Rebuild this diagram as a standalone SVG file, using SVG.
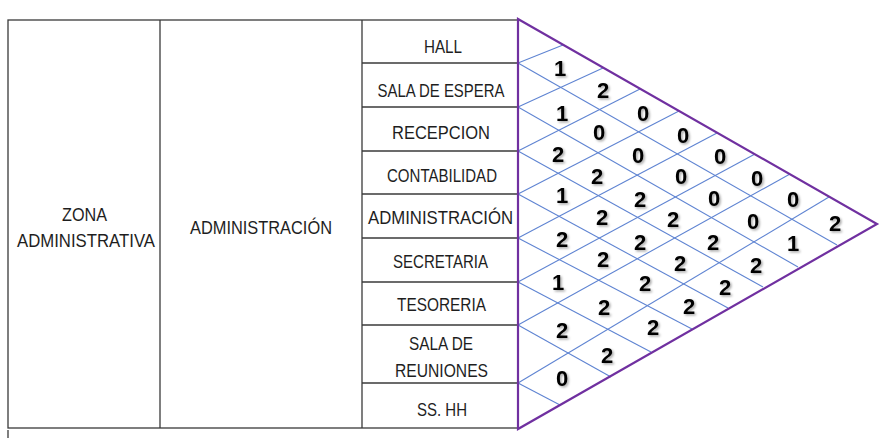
<svg xmlns="http://www.w3.org/2000/svg" width="886" height="438" viewBox="0 0 886 438">
<style>
.tb{fill:none;stroke:#3a3a3a;stroke-width:1.3}
.lbl{font-family:"Liberation Sans",Arial,sans-serif;font-size:19px;fill:#1e1e1e;text-anchor:middle}
.grid line{stroke:#5f84d2;stroke-width:1.1}
.tri{fill:none;stroke:#7030a0;stroke-width:2.2;stroke-linejoin:miter}
.num{font-family:"Liberation Sans",Arial,sans-serif;font-size:22px;font-weight:bold;fill:#000;text-anchor:middle}
</style>
<defs>
<filter id="sh" x="-50%" y="-50%" width="200%" height="200%">
<feDropShadow dx="1.5" dy="1.5" stdDeviation="0.9" flood-color="#000" flood-opacity="0.35"/>
</filter>
</defs>
<rect width="886" height="438" fill="#fff"/>
<g id="table">
<rect class="tb" x="8" y="20" width="510" height="408"/>
<line class="tb" x1="160" y1="20" x2="160" y2="428"/>
<line class="tb" x1="362" y1="20" x2="362" y2="428"/>
<line class="tb" x1="362" y1="63" x2="518" y2="63"/>
<line class="tb" x1="362" y1="107" x2="518" y2="107"/>
<line class="tb" x1="362" y1="151" x2="518" y2="151"/>
<line class="tb" x1="362" y1="194" x2="518" y2="194"/>
<line class="tb" x1="362" y1="238" x2="518" y2="238"/>
<line class="tb" x1="362" y1="282" x2="518" y2="282"/>
<line class="tb" x1="362" y1="325" x2="518" y2="325"/>
<line class="tb" x1="362" y1="383" x2="518" y2="383"/>
<line class="tb" x1="8" y1="430" x2="8" y2="438"/>
</g>
<g id="zona"><text class="lbl" x="84.5" y="220.5" textLength="45" lengthAdjust="spacingAndGlyphs">ZONA</text><text class="lbl" x="86" y="247" textLength="138" lengthAdjust="spacingAndGlyphs">ADMINISTRATIVA</text></g>
<g id="area"><text class="lbl" x="261" y="233.5" textLength="142" lengthAdjust="spacingAndGlyphs">ADMINISTRACIÓN</text></g>
<g id="rooms">
<g id="r-hall"><text class="lbl" x="443" y="52.5" textLength="38" lengthAdjust="spacingAndGlyphs">HALL</text></g>
<g id="r-espera"><text class="lbl" x="441" y="96.5" textLength="127" lengthAdjust="spacingAndGlyphs">SALA DE ESPERA</text></g>
<g id="r-recepcion"><text class="lbl" x="441" y="138.5" textLength="98" lengthAdjust="spacingAndGlyphs">RECEPCION</text></g>
<g id="r-contabilidad"><text class="lbl" x="442" y="182" textLength="110" lengthAdjust="spacingAndGlyphs">CONTABILIDAD</text></g>
<g id="r-administracion"><text class="lbl" x="440.5" y="223.5" textLength="145" lengthAdjust="spacingAndGlyphs">ADMINISTRACIÓN</text></g>
<g id="r-secretaria"><text class="lbl" x="440.5" y="267.5" textLength="95" lengthAdjust="spacingAndGlyphs">SECRETARIA</text></g>
<g id="r-tesoreria"><text class="lbl" x="441.5" y="310.5" textLength="89" lengthAdjust="spacingAndGlyphs">TESORERIA</text></g>
<g id="r-reuniones"><text class="lbl" x="441" y="350" textLength="64" lengthAdjust="spacingAndGlyphs">SALA DE</text><text class="lbl" x="441.5" y="377" textLength="93" lengthAdjust="spacingAndGlyphs">REUNIONES</text></g>
<g id="r-sshh"><text class="lbl" x="442" y="416" textLength="50" lengthAdjust="spacingAndGlyphs">SS. HH</text></g>
</g>
<g id="connectors" class="grid">
<line x1="518" y1="63" x2="837" y2="245"/>
<line x1="518" y1="107" x2="798" y2="267"/>
<line x1="518" y1="151" x2="763" y2="287"/>
<line x1="518" y1="194" x2="728" y2="308"/>
<line x1="518" y1="238" x2="692" y2="329"/>
<line x1="518" y1="282" x2="651" y2="352"/>
<line x1="518" y1="325" x2="611" y2="377"/>
<line x1="518" y1="383" x2="560" y2="405"/>
<line x1="518" y1="63" x2="563" y2="45"/>
<line x1="518" y1="107" x2="603" y2="68"/>
<line x1="518" y1="151" x2="640" y2="89"/>
<line x1="518" y1="194" x2="679" y2="111"/>
<line x1="518" y1="238" x2="717" y2="133"/>
<line x1="518" y1="282" x2="755" y2="154"/>
<line x1="518" y1="325" x2="790" y2="174"/>
<line x1="518" y1="383" x2="829" y2="197"/>
</g>
<g id="triangle"><polygon class="tri" points="518,19 877,224 518,429"/></g>
<g id="values" filter="url(#sh)">
<text class="num" x="560" y="76">1</text>
<text class="num" x="562" y="121">1</text>
<text class="num" x="558" y="162">2</text>
<text class="num" x="562" y="203">1</text>
<text class="num" x="562" y="247">2</text>
<text class="num" x="558" y="290">1</text>
<text class="num" x="562" y="338">2</text>
<text class="num" x="562" y="386">0</text>
<text class="num" x="603" y="98">2</text>
<text class="num" x="599" y="140">0</text>
<text class="num" x="597" y="184">2</text>
<text class="num" x="602" y="225">2</text>
<text class="num" x="603" y="267">2</text>
<text class="num" x="604" y="315">2</text>
<text class="num" x="607" y="363">2</text>
<text class="num" x="643" y="121">0</text>
<text class="num" x="638" y="163">0</text>
<text class="num" x="640" y="207">2</text>
<text class="num" x="640" y="250">2</text>
<text class="num" x="645" y="291">2</text>
<text class="num" x="653" y="335">2</text>
<text class="num" x="683" y="143">0</text>
<text class="num" x="681" y="184">0</text>
<text class="num" x="673" y="227">2</text>
<text class="num" x="680" y="271">2</text>
<text class="num" x="689" y="314">2</text>
<text class="num" x="720" y="164">0</text>
<text class="num" x="714" y="206">0</text>
<text class="num" x="713" y="250">2</text>
<text class="num" x="725" y="295">2</text>
<text class="num" x="757" y="186">0</text>
<text class="num" x="753" y="229">0</text>
<text class="num" x="756" y="273">2</text>
<text class="num" x="793" y="207">0</text>
<text class="num" x="793" y="251">1</text>
<text class="num" x="835" y="231">2</text>
</g>
</svg>
